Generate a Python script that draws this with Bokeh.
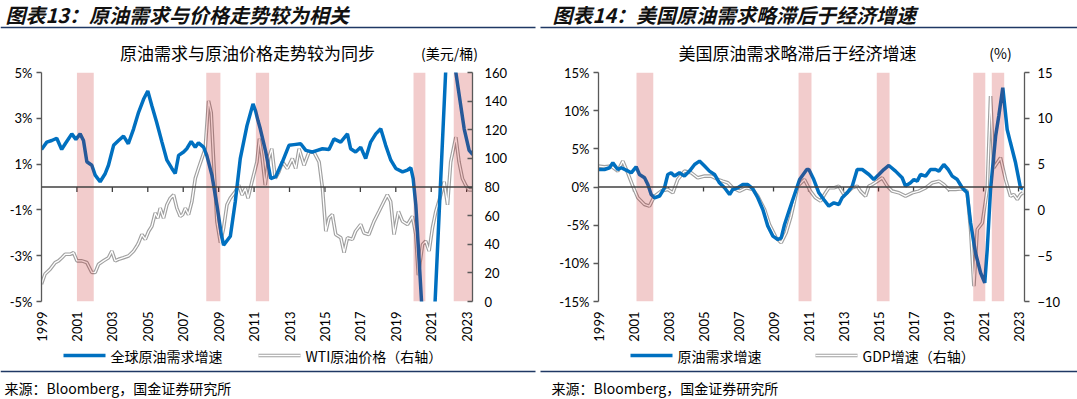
import math
from bokeh.plotting import figure
from bokeh.models import Range1d, LinearAxis, FixedTicker, Span
from bokeh.layouts import row, column
from bokeh.embed import file_html
from bokeh.resources import INLINE
from bokeh.core.properties import value

CJK = "Noto Sans CJK SC"
NUM = "Lato"

# ---------------- Chart 13 data ----------------
global_demand_year = [1999.0, 1999.3, 1999.58, 1999.86, 2000.14, 2000.34, 2000.71, 2000.94, 2001.18, 2001.37,
                      2001.56, 2001.84, 2002.03, 2002.31, 2002.6, 2002.78, 2003.07, 2003.35, 2003.63, 2003.9,
                      2004.2, 2004.48, 2004.76, 2005.0, 2005.23, 2005.5, 2005.8, 2006.08, 2006.36, 2006.55,
                      2006.74, 2007.02, 2007.2, 2007.45, 2007.68, 2007.86, 2008.15, 2008.33, 2008.62, 2008.9,
                      2009.15, 2009.28, 2009.66, 2009.94, 2010.22, 2010.6, 2010.94, 2011.09, 2011.22, 2011.35,
                      2011.66, 2011.94, 2012.22, 2012.6, 2012.97, 2013.25, 2013.63, 2013.92, 2014.29, 2014.57,
                      2014.86, 2015.23, 2015.51, 2015.89, 2016.27, 2016.45, 2016.73, 2017.02, 2017.3, 2017.58,
                      2017.87, 2018.15, 2018.43, 2018.72, 2019.0, 2019.38, 2019.66, 2019.85, 2019.98, 2020.13,
                      2020.32, 2020.88, 2021.95, 2022.39, 2022.86, 2023.14, 2023.35]
global_demand_pct = [1.64, 1.96, 2.03, 2.13, 1.64, 1.89, 2.32, 2.08, 2.32, 2.03,
                     1.1, 0.95, 0.52, 0.23, 0.59, 0.95, 1.82, 2.03, 2.22, 1.89,
                     2.54, 3.26, 3.83, 4.19, 3.55, 2.83, 1.96, 1.17, 0.81, 0.59,
                     1.38, 1.53, 1.67, 1.99, 1.74, 1.93, 1.74, 1.38, 0.52, -0.78,
                     -2.07, -2.54, -2.15, -0.63, 1.24, 2.68, 3.63, 3.3, 2.9, 2.54,
                     1.53, 0.37, 0.45, 1.1, 1.82, 1.85, 1.89, 1.6, 1.53, 1.6,
                     1.67, 1.64, 2.1, 1.96, 2.32, 1.67, 1.53, 1.74, 1.24, 1.96,
                     2.32, 2.54, 1.82, 1.17, 0.81, 0.66, 0.74, 0.84, 0.37, -0.78,
                     -3.23, -10.7, 7.3, 5.0, 2.54, 1.6, 1.41]

wti_year = [1999.0, 1999.2, 1999.49, 1999.77, 1999.96, 2000.15, 2000.34, 2000.62, 2000.81, 2001.0,
            2001.28, 2001.56, 2001.84, 2002.03, 2002.22, 2002.5, 2002.78, 2002.97, 2003.16, 2003.35,
            2003.63, 2003.91, 2004.2, 2004.38, 2004.48, 2004.67, 2004.86, 2005.05, 2005.23, 2005.42,
            2005.57, 2005.7, 2005.89, 2006.08, 2006.27, 2006.46, 2006.64, 2006.83, 2006.97, 2007.12,
            2007.3, 2007.49, 2007.68, 2007.86, 2008.05, 2008.24, 2008.43, 2008.58, 2008.72, 2008.9,
            2009.1, 2009.28, 2009.47, 2009.66, 2009.94, 2010.13, 2010.32, 2010.51, 2010.66, 2010.88,
            2011.16, 2011.3, 2011.44, 2011.63, 2011.82, 2012.0, 2012.2, 2012.4, 2012.6, 2012.88,
            2013.16, 2013.35, 2013.54, 2013.82, 2014.1, 2014.38, 2014.67, 2014.86, 2015.05, 2015.23,
            2015.42, 2015.61, 2015.9, 2016.08, 2016.27, 2016.55, 2016.73, 2017.02, 2017.2, 2017.48,
            2017.77, 2018.05, 2018.33, 2018.52, 2018.71, 2018.9, 2019.15, 2019.38, 2019.66, 2019.94,
            2020.13, 2020.27, 2020.51, 2020.69, 2020.88, 2021.07, 2021.26, 2021.54, 2021.73, 2021.92,
            2022.1, 2022.39, 2022.57, 2022.76, 2022.94, 2023.13, 2023.32]
wti_price = [12.2, 19.2, 22.6, 27.2, 28.4, 30.6, 33.0, 33.0, 34.1, 28.4,
             28.4, 27.2, 20.3, 20.3, 26.0, 28.4, 30.6, 35.3, 28.4, 29.5,
             30.6, 31.8, 35.3, 38.7, 41.0, 46.8, 43.4, 49.1, 52.6, 61.8,
             58.3, 65.2, 58.3, 67.6, 72.2, 74.5, 65.2, 59.5, 60.7, 65.2,
             60.7, 69.9, 86.0, 92.9, 99.8, 106.7, 140.2, 132.0, 97.5, 56.0,
             41.0, 51.4, 67.6, 72.2, 76.8, 81.4, 74.5, 79.1, 72.2, 83.7,
             97.5, 113.7, 102.2, 81.4, 99.8, 106.7, 86.0, 90.6, 97.5, 92.9,
             99.8, 92.9, 106.7, 95.2, 104.4, 104.4, 97.5, 79.1, 49.1, 58.3,
             60.7, 46.8, 44.5, 34.1, 44.5, 43.4, 49.1, 53.8, 47.9, 46.8,
             56.0, 62.9, 69.9, 74.5, 69.9, 46.8, 62.9, 56.0, 53.8, 59.5,
             46.8, 18.5, 39.9, 42.2, 35.3, 51.4, 62.9, 74.5, 83.7, 67.6,
             97.5, 114.8, 97.5, 86.0, 81.4, 78.0, 78.0]

bands13_start = [2001.0, 2008.3, 2011.1, 2020.0, 2022.27]
bands13_end = [2001.95, 2009.1, 2011.85, 2020.67, 2023.35]

# ---------------- Chart 14 data ----------------
us_demand_year = [1999.0, 1999.34, 1999.63, 1999.82, 2000.1, 2000.3, 2000.58, 2000.87, 2001.15, 2001.34,
                  2001.63, 2001.82, 2002.01, 2002.2, 2002.49, 2002.77, 2002.96, 2003.15, 2003.34, 2003.63,
                  2003.91, 2004.2, 2004.49, 2004.77, 2005.06, 2005.34, 2005.63, 2005.91, 2006.2, 2006.49,
                  2006.67, 2006.96, 2007.25, 2007.53, 2007.82, 2008.1, 2008.39, 2008.67, 2008.96, 2009.25,
                  2009.44, 2009.63, 2009.91, 2010.2, 2010.49, 2010.9, 2011.02, 2011.3, 2011.59, 2011.87,
                  2012.16, 2012.45, 2012.73, 2012.92, 2013.21, 2013.5, 2013.78, 2014.07, 2014.45, 2014.73,
                  2015.02, 2015.3, 2015.59, 2015.97, 2016.35, 2016.54, 2016.83, 2017.02, 2017.21, 2017.4,
                  2017.69, 2017.97, 2018.26, 2018.45, 2018.73, 2018.98, 2019.21, 2019.5, 2019.78, 2020.06,
                  2020.26, 2020.54, 2020.83, 2021.07, 2021.21, 2021.4, 2021.69, 2021.87, 2022.1, 2022.35,
                  2022.54, 2022.83, 2023.11, 2023.25]
us_demand_pct = [2.29, 2.29, 2.52, 3.17, 2.29, 2.52, 2.21, 1.86, 2.65, 1.64,
                 1.21, 0.33, -0.98, -1.41, -1.19, -0.1, 1.64, 1.86, 1.43, 1.86,
                 1.43, 2.08, 2.95, 3.39, 2.74, 2.08, 1.64, 0.55, -0.1, -0.98,
                 -0.33, -0.1, 0.33, 0.33, -0.24, -1.41, -2.95, -5.12, -6.43, -6.88,
                 -6.66, -4.91, -2.95, -0.98, 0.98, 2.29, 2.29, 0.98, -0.76, -1.64,
                 -2.5, -2.07, -2.29, -1.41, -0.76, 0.12, 2.29, 2.29, 1.64, 0.98,
                 1.64, 2.29, 2.82, 2.08, 1.21, 0.12, 0.55, 0.98, 0.77, 1.64,
                 1.43, 2.29, 2.29, 2.08, 2.95, 2.29, 1.43, 0.98, -0.1, -0.76,
                 -4.69, -8.62, -11.24, -12.55, -8.19, -0.33, 6.67, 9.29, 13.0, 7.53,
                 5.79, 3.17, -0.1, -0.24]

gdp_year = [1999.0, 1999.34, 1999.72, 2000.1, 2000.39, 2000.67, 2000.96, 2001.25, 2001.63, 2001.91,
            2002.2, 2002.58, 2002.96, 2003.25, 2003.53, 2003.91, 2004.3, 2004.67, 2005.06, 2005.44,
            2005.82, 2006.1, 2006.39, 2006.67, 2007.06, 2007.44, 2007.82, 2008.1, 2008.49, 2008.77,
            2009.15, 2009.44, 2009.72, 2010.0, 2010.39, 2010.77, 2011.11, 2011.4, 2011.69, 2011.97,
            2012.16, 2012.45, 2012.73, 2013.02, 2013.21, 2013.5, 2013.78, 2013.97, 2014.26, 2014.45,
            2014.64, 2014.93, 2015.21, 2015.5, 2015.78, 2016.16, 2016.54, 2016.93, 2017.3, 2017.69,
            2018.07, 2018.45, 2018.73, 2019.02, 2019.4, 2019.78, 2020.06, 2020.26, 2020.45, 2020.64,
            2020.93, 2021.21, 2021.4, 2021.59, 2021.97, 2022.26, 2022.54, 2022.73, 2022.93, 2023.11,
            2023.25]
gdp_pct = [4.78, 4.7, 4.78, 4.24, 5.33, 4.05, 2.6, 1.32, 0.59, 0.41,
           1.5, 2.05, 2.23, 1.87, 3.32, 4.24, 4.05, 3.5, 3.69, 3.69,
           3.32, 3.14, 2.96, 2.41, 2.05, 2.41, 2.23, 1.5, 0.04, -1.59,
           -3.05, -3.59, -2.5, -0.68, 2.6, 3.32, 2.05, 1.32, 0.96, 1.87,
           2.41, 2.41, 2.6, 1.68, 1.87, 2.41, 2.6, 2.05, 1.5, 2.6,
           2.77, 3.14, 3.5, 2.6, 2.05, 1.87, 1.5, 1.87, 2.05, 2.41,
           2.96, 3.14, 2.77, 2.23, 2.23, 2.3, 2.05, -2.14, -8.32, -2.14,
           -1.41, 2.23, 12.42, 4.6, 5.69, 3.32, 1.5, 1.68, 1.14, 1.68,
           1.87]

bands14_start = [2001.17, 2010.43, 2014.9, 2020.41, 2021.47]
bands14_end = [2002.13, 2011.17, 2015.63, 2021.1, 2022.18]

year_ticks = list(range(1999, 2024, 2))
left13_ticks = [-5, -3, -1, 1, 3, 5]
right13_ticks = [0, 20, 40, 60, 80, 100, 120, 140, 160]
left14_ticks = [-15, -10, -5, 0, 5, 10, 15]
right14_ticks = [-10, -5, 0, 5, 10, 15]

BLUE = "#0070C0"
GREY = "#A0A0A0"
AXIS = "#595959"
NAVY = "#1F3864"
TXT = "#000000"
W1, W2 = 537, 540
WT = W1 + W2


def style_axis(ax, size="13px"):
    ax.major_label_text_font = NUM
    ax.major_label_text_font_size = size
    ax.major_label_text_color = TXT
    ax.minor_tick_line_color = None
    ax.minor_tick_in = 0
    ax.minor_tick_out = 0
    ax.axis_line_color = AXIS
    ax.major_tick_line_color = AXIS
    ax.axis_line_width = 1.3
    ax.major_tick_line_width = 1.3


def strip_fig(width, height):
    """A plain strip whose frame fills the canvas; y runs downwards in pixels."""
    s = figure(width=width, height=height, output_backend="svg", toolbar_location=None,
               x_axis_location=None, y_axis_location=None,
               x_range=Range1d(0, width), y_range=Range1d(height, 0),
               min_border=0, min_border_left=0, min_border_right=0,
               min_border_top=0, min_border_bottom=0)
    s.grid.grid_line_color = None
    s.outline_line_color = None
    s.background_fill_color = "white"
    s.border_fill_color = "white"
    return s


def put_text(s, x, y, text, size, style="normal", align="left", color=TXT):
    s.text(x=[x], y=[y], text=[text], text_font=value(CJK), text_font_size=size,
           text_font_style=style, text_align=align, text_baseline="middle", text_color=color)


def chart_fig(width, height, bl, br, bt, bb, x_end, y_lo, y_hi, left_ticks,
              right_name, right_lo, right_hi, right_ticks, tick_in_right, tick_drop):
    p = figure(width=width, height=height, output_backend="svg", toolbar_location=None,
               x_range=Range1d(1999.0, x_end), y_range=Range1d(y_lo, y_hi),
               min_border_left=bl, min_border_right=br, min_border_top=bt, min_border_bottom=bb)
    p.outline_line_color = None
    p.grid.grid_line_color = None
    p.background_fill_color = "white"
    p.border_fill_color = "white"
    p.extra_y_ranges = {right_name: Range1d(right_lo, right_hi)}

    xa = p.xaxis[0]
    xa.ticker = FixedTicker(ticks=year_ticks)
    style_axis(xa)
    xa.axis_line_color = None
    xa.major_tick_line_color = None
    xa.major_tick_in = 0
    xa.major_tick_out = 0
    xa.major_label_orientation = math.pi / 2
    xa.major_label_standoff = 10

    ya = p.yaxis[0]
    ya.ticker = FixedTicker(ticks=left_ticks)
    ya.major_label_overrides = {t: f"{t}%" for t in left_ticks}
    style_axis(ya)
    ya.major_tick_out = 5
    ya.major_tick_in = 0
    ya.major_label_standoff = 4

    ra = LinearAxis(y_range_name=right_name, ticker=FixedTicker(ticks=right_ticks))
    style_axis(ra)
    if tick_in_right:
        ra.major_tick_in = 5
        ra.major_tick_out = 0
        ra.major_label_standoff = 12
    else:
        ra.major_tick_in = 0
        ra.major_tick_out = 5
        ra.major_label_standoff = 8
    p.add_layout(ra, "right")

    # horizontal zero line acting as the category axis, with its tick marks
    p.add_layout(Span(location=0, dimension="width", line_color="#404040", line_width=1.5))
    p.segment(x0=year_ticks[1:], y0=[0] * (len(year_ticks) - 1),
              x1=year_ticks[1:], y1=[-tick_drop] * (len(year_ticks) - 1),
              line_color="#404040", line_width=1.3)
    return p


def legend_entry(s, gx, ly, label, double):
    if double:
        s.segment(x0=[gx], y0=[ly], x1=[gx + 42], y1=[ly], line_color=GREY, line_width=3.6)
        s.segment(x0=[gx], y0=[ly], x1=[gx + 42], y1=[ly], line_color="white", line_width=1.3)
    else:
        s.segment(x0=[gx], y0=[ly], x1=[gx + 42], y1=[ly], line_color=BLUE, line_width=3.5)
    put_text(s, gx + 47, ly, label, "14px")


# ---------------- header strip (both panels) ----------------
top = strip_fig(WT, 64)
put_text(top, 5, 14, "图表13：原油需求与价格走势较为相关", "20px", style="bold italic", color="#111111")
put_text(top, W1 + 15, 14, "图表14：美国原油需求略滞后于经济增速", "20px", style="bold italic", color="#111111")
top.segment(x0=[0, W1 + 3], y0=[27, 27], x1=[W1 - 2, WT], y1=[27, 27], line_color=NAVY, line_width=1.5)
put_text(top, 247, 52, "原油需求与原油价格走势较为同步", "17px", align="center")
put_text(top, 449, 52, "(美元/桶)", "14px", align="center")
put_text(top, W1 + 260, 52, "美国原油需求略滞后于经济增速", "17px", align="center")
put_text(top, W1 + 463, 52, "(%)", "14px", align="center")

# ---------------- Figure 13 ----------------
p1 = chart_fig(W1, 281, 41, 65, 8, 42, 2023.33, -5, 5, left13_ticks,
               "wti", 0, 160, right13_ticks, True, 0.22)
p1.line(wti_year, wti_price, y_range_name="wti", line_color=GREY, line_width=3.6)
p1.line(wti_year, wti_price, y_range_name="wti", line_color="white", line_width=1.3)
p1.line(global_demand_year, global_demand_pct, line_color=BLUE, line_width=3.5)
p1.quad(left=bands13_start, right=bands13_end, bottom=-5, top=5,
        fill_color="#C00000", fill_alpha=0.2, line_color=None)

# ---------------- Figure 14 ----------------
p2 = chart_fig(W2, 281, 61, 53, 8, 44, 2023.34, -15, 15, left14_ticks,
               "gdp", -10, 15, right14_ticks, False, 0.6)
p2.line(gdp_year, gdp_pct, y_range_name="gdp", line_color=GREY, line_width=3.6)
p2.line(gdp_year, gdp_pct, y_range_name="gdp", line_color="white", line_width=1.3)
p2.line(us_demand_year, us_demand_pct, line_color=BLUE, line_width=3.5)
p2.quad(left=bands14_start, right=bands14_end, bottom=-15, top=15,
        fill_color="#C00000", fill_alpha=0.2, line_color=None)

# ---------------- legend / source strip ----------------
bot = strip_fig(WT, 54)
legend_entry(bot, 63, 10, "全球原油需求增速", False)
legend_entry(bot, 258, 10, "WTI原油价格（右轴）", True)
legend_entry(bot, W1 + 93, 10, "原油需求增速", False)
legend_entry(bot, W1 + 278, 10, "GDP增速（右轴）", True)
bot.segment(x0=[0, W1 + 3], y0=[26, 26], x1=[W1 - 2, WT], y1=[26, 26], line_color=NAVY, line_width=1.5)
put_text(bot, 4, 42, "来源：Bloomberg，国金证券研究所", "14px")
put_text(bot, W1 + 14, 42, "来源：Bloomberg，国金证券研究所", "14px")

layout = column(top, row(p1, p2), bot)
open("out.html", "w").write(file_html(layout, INLINE))
